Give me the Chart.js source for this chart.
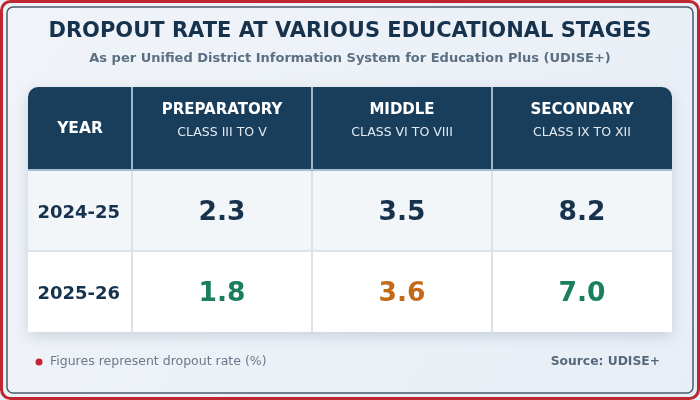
<!DOCTYPE html>
<html>
<head>
<meta charset="utf-8">
<script src="https://cdn.jsdelivr.net/npm/chart.js@4.4.1/dist/chart.umd.min.js"></script>
<style>
  html, body { margin: 0; padding: 0; background: #eef3f9; }
  #wrap { width: 700px; height: 400px; }
</style>
</head>
<body>
<div id="wrap"><canvas id="grafico" width="700" height="400"></canvas></div>
<script>
// dados da tabela
const etapas = ['PREPARATORY', 'MIDDLE', 'SECONDARY'];
const classes = ['CLASS III TO V', 'CLASS VI TO VIII', 'CLASS IX TO XII'];
const anos = ['2024-25', '2025-26'];
const taxas2024 = [2.3, 3.5, 8.2];
const taxas2025 = [1.8, 3.6, 7.0];
const taxas = [taxas2024, taxas2025];

const azul = '#17324d';
const cabecalho = '#183e5c';
const verde = '#1a7f5a';
const laranja = '#c26a1a';
const fonte = '"DejaVu Sans", sans-serif';

function corValor(linha, col) {
    if (linha == 0) return azul;
    return taxas[linha][col] < taxas[linha - 1][col] ? verde : laranja;
}

// moldura, fundo e células
const tabelaPlugin = {
    id: 'tabela',
    beforeDraw(chart) {
        const ctx = chart.ctx;
        const x = chart.scales.x, y = chart.scales.y;
        const W = chart.width, H = chart.height;

        // fundo
        let grad = ctx.createLinearGradient(0, 0, W, H);
        grad.addColorStop(0, '#f0f4f9');
        grad.addColorStop(1, '#e8eef6');
        ctx.save();
        ctx.fillStyle = grad;
        ctx.fillRect(0, 0, W, H);

        // borda vermelha
        ctx.strokeStyle = '#c0262f';
        ctx.lineWidth = 3;
        ctx.beginPath();
        ctx.roundRect(1.5, 1.5, W - 3, H - 3, 9);
        ctx.stroke();

        // borda interna
        ctx.strokeStyle = '#4a5b6c';
        ctx.lineWidth = 1.5;
        ctx.beginPath();
        ctx.roundRect(7, 7, W - 14, H - 14, 6);
        ctx.stroke();

        const esq = y.left, dir = x.right;
        const topo = x.top, baseCab = x.bottom, fim = y.bottom;
        const altLinha = (y.bottom - y.top) / anos.length;
        const largCol = (x.right - x.left) / etapas.length;

        // sombra da tabela
        ctx.save();
        ctx.shadowColor = 'rgba(30, 60, 90, 0.18)';
        ctx.shadowBlur = 14;
        ctx.shadowOffsetY = 4;
        ctx.fillStyle = '#ffffff';
        ctx.beginPath();
        ctx.roundRect(esq, topo, dir - esq, fim - topo, [10, 10, 0, 0]);
        ctx.fill();
        ctx.restore();

        // cabeçalho
        ctx.fillStyle = cabecalho;
        ctx.beginPath();
        ctx.roundRect(esq, topo, dir - esq, baseCab - topo, [10, 10, 0, 0]);
        ctx.fill();

        // linhas do corpo
        anos.forEach((ano, i) => {
            const cy = y.getPixelForValue(i);
            ctx.fillStyle = i % 2 == 0 ? '#f3f6f9' : '#ffffff';
            ctx.fillRect(esq, cy - altLinha / 2, dir - esq, altLinha);
        });

        // divisórias verticais
        const divisorias = [y.right];
        for (let i = 1; i < etapas.length; i++) {
            divisorias.push(x.getPixelForValue(i) - largCol / 2);
        }
        ctx.lineWidth = 2;
        divisorias.forEach(px => {
            ctx.strokeStyle = '#a3b6c7';
            ctx.beginPath();
            ctx.moveTo(px, topo);
            ctx.lineTo(px, baseCab);
            ctx.stroke();
            ctx.strokeStyle = '#dbe3ea';
            ctx.beginPath();
            ctx.moveTo(px, baseCab);
            ctx.lineTo(px, fim);
            ctx.stroke();
        });

        // divisórias horizontais
        ctx.strokeStyle = '#a9bccd';
        ctx.beginPath();
        ctx.moveTo(esq, baseCab);
        ctx.lineTo(dir, baseCab);
        ctx.stroke();
        ctx.strokeStyle = '#dbe3ea';
        for (let i = 1; i < anos.length; i++) {
            const py = y.getPixelForValue(i) - altLinha / 2;
            ctx.beginPath();
            ctx.moveTo(esq, py);
            ctx.lineTo(dir, py);
            ctx.stroke();
        }

        // textos do cabeçalho
        const meio = (topo + baseCab) / 2;
        ctx.fillStyle = '#ffffff';
        ctx.textAlign = 'center';
        ctx.textBaseline = 'middle';
        ctx.font = 'bold 15.5px ' + fonte;
        ctx.fillText('YEAR', (y.left + y.right) / 2, meio);
        etapas.forEach((etapa, i) => {
            const cx = x.getPixelForValue(i);
            ctx.fillStyle = '#ffffff';
            ctx.font = 'bold 15px ' + fonte;
            ctx.fillText(etapa, cx, meio - 18);
            ctx.fillStyle = '#e3eaf1';
            ctx.font = '12.5px ' + fonte;
            ctx.fillText(classes[i], cx, meio + 4.5);
        });
        ctx.restore();
    },
    afterDatasetsDraw(chart) {
        const ctx = chart.ctx;
        const x = chart.scales.x, y = chart.scales.y;
        ctx.save();
        ctx.textAlign = 'center';
        ctx.textBaseline = 'middle';
        ctx.font = 'bold 26.5px ' + fonte;
        taxas.forEach((linha, i) => {
            linha.forEach((v, j) => {
                ctx.fillStyle = corValor(i, j);
                ctx.fillText(v.toFixed(1), x.getPixelForValue(j), y.getPixelForValue(i) + 3);
            });
        });

        // rodapé
        ctx.fillStyle = '#c0262f';
        ctx.beginPath();
        ctx.arc(39, 362, 3.5, 0, Math.PI * 2);
        ctx.fill();
        ctx.textAlign = 'left';
        ctx.fillStyle = '#6b7a89';
        ctx.font = '12.5px ' + fonte;
        ctx.fillText('Figures represent dropout rate (%)', 50, 362);
        ctx.textAlign = 'right';
        ctx.fillStyle = '#55687b';
        ctx.font = 'bold 12.3px ' + fonte;
        ctx.fillText('Source: UDISE+', 660, 362);
        ctx.restore();
    }
};

const pontos = [];
anos.forEach((ano, i) => {
    etapas.forEach((etapa, j) => {
        pontos.push({ x: etapa, y: ano, v: taxas[i][j] });
    });
});

const chartTabela = new Chart(document.getElementById('grafico'), {
    type: 'scatter',
    data: {
        datasets: [{
            label: 'Dropout rate',
            data: pontos,
            pointRadius: 0,
            pointHoverRadius: 0
        }]
    },
    options: {
        responsive: false,
        animation: false,
        events: [],
        layout: {
            padding: { top: 8, left: 28, right: 28, bottom: 68 }
        },
        scales: {
            x: {
                type: 'category',
                labels: etapas,
                position: 'top',
                offset: true,
                grid: { display: false, drawTicks: false },
                border: { display: false },
                ticks: { display: false },
                afterFit: s => { s.height = 83; }
            },
            y: {
                type: 'category',
                labels: anos,
                offset: true,
                grid: { display: false, drawTicks: false },
                border: { display: false },
                ticks: {
                    crossAlign: 'center',
                    padding: 12,
                    labelOffset: 3,
                    color: azul,
                    font: { family: fonte, size: 18, weight: 'bold' }
                },
                afterFit: s => { s.width = 104; }
            }
        },
        plugins: {
            legend: { display: false },
            tooltip: { enabled: false },
            title: {
                display: true,
                text: 'DROPOUT RATE AT VARIOUS EDUCATIONAL STAGES',
                color: azul,
                font: { family: fonte, size: 21, weight: 'bold', lineHeight: 1.2 },
                padding: { top: 11.4, bottom: 2 }
            },
            subtitle: {
                display: true,
                text: 'As per Unified District Information System for Education Plus (UDISE+)',
                color: '#5b6f83',
                font: { family: fonte, size: 13, weight: 'bold', lineHeight: 1.2 },
                padding: { top: 4.1, bottom: 20.7 }
            }
        }
    },
    plugins: [tabelaPlugin]
});
</script>
</body>
</html>
